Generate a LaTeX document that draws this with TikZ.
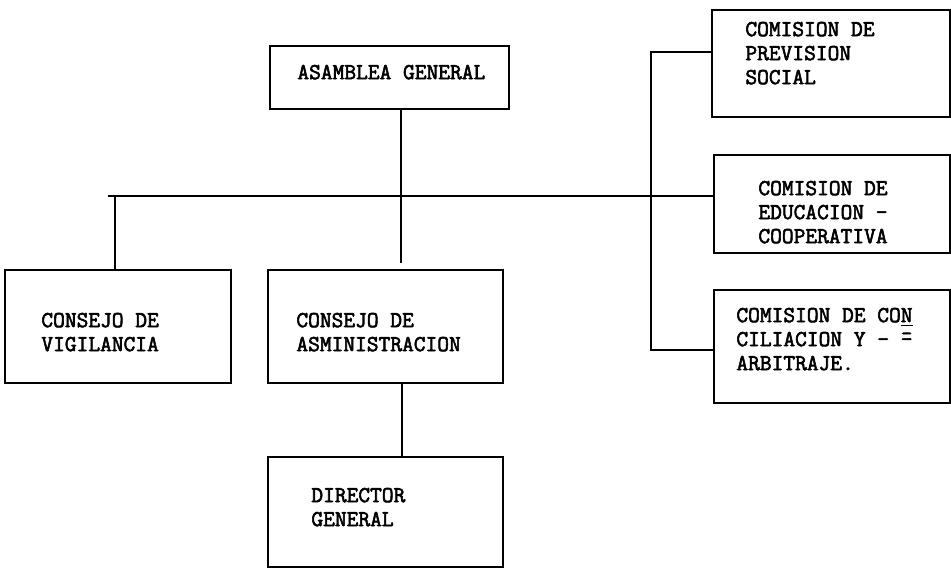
\documentclass[tikz,border=0pt]{standalone}
\usepackage{fontspec}
\setmonofont{Latin Modern Mono}[AutoFakeBold=2.5]
\usetikzlibrary{positioning,fit}
\tikzset{
  orgbox/.style={draw,line width=1pt,inner sep=0pt},
  orglbl/.style={anchor=north west,inner sep=0pt,align=left,
                 font=\ttfamily\bfseries\fontsize{11.4}{12}\selectfont},
  link/.style={line width=1pt},
}

\begin{document}
\begin{tikzpicture}[x=0.5pt,y=-0.5pt]
  \useasboundingbox (0,0) rectangle (951,569);
  % cajas
  \node[orgbox,fit={(270,46)(509,109)}] (asamblea) {};
  \node[orgbox,fit={(5,270)(231,383)}] (vigilancia) {};
  \node[orgbox,fit={(268,270)(503,383)}] (admin) {};
  \node[orgbox,fit={(268,457)(503,567)}] (director) {};
  \node[orgbox,fit={(712,10)(950,117)}] (prevision) {};
  \node[orgbox,fit={(714,155)(950,253)}] (educacion) {};
  \node[orgbox,fit={(714,290)(950,403)}] (conciliacion) {};
  % textos
  \node[orglbl] at ([shift={(28,19.5)}]asamblea.north west) {ASAMBLEA GENERAL};
  \node[orglbl] at ([shift={(37,43.5)}]vigilancia.north west) {CONSEJO DE\\VIGILANCIA};
  \node[orglbl] at ([shift={(29,43.5)}]admin.north west) {CONSEJO DE\\ASMINISTRACION};
  \node[orglbl] at ([shift={(44,31.5)}]director.north west) {DIRECTOR\\GENERAL};
  \node[orglbl] at ([shift={(34,12.5)}]prevision.north west) {COMISION DE\\PREVISION\\SOCIAL};
  \node[orglbl] at ([shift={(45,26.5)}]educacion.north west) {COMISION DE\\EDUCACION -\\COOPERATIVA};
  \node[orglbl] at ([shift={(23,18.5)}]conciliacion.north west)
    {COMISION DE CO\underline{N}\\CILIACION Y - \={-}\\ARBITRAJE.};
  % lineas
  \coordinate (junta) at (401,196);
  \coordinate (busL) at (108,196);
  \coordinate (vig) at (115,196);
  \coordinate (admGap) at (401,263);
  \coordinate (brTop) at (651,52);
  \coordinate (brBot) at (651,350);
  \draw[link] ([xshift=5.75pt]asamblea.south) -- (admGap);
  \draw[link] (busL) -- (junta -| educacion.west);
  \draw[link] (vig) -- (vig |- vigilancia.north);
  \draw[link] (brTop -| prevision.west) -- (brTop) -- (brBot) -- (brBot -| conciliacion.west);
  \draw[link] ([xshift=8pt]admin.south) -- ([xshift=8pt]director.north);
\end{tikzpicture}
\end{document}
